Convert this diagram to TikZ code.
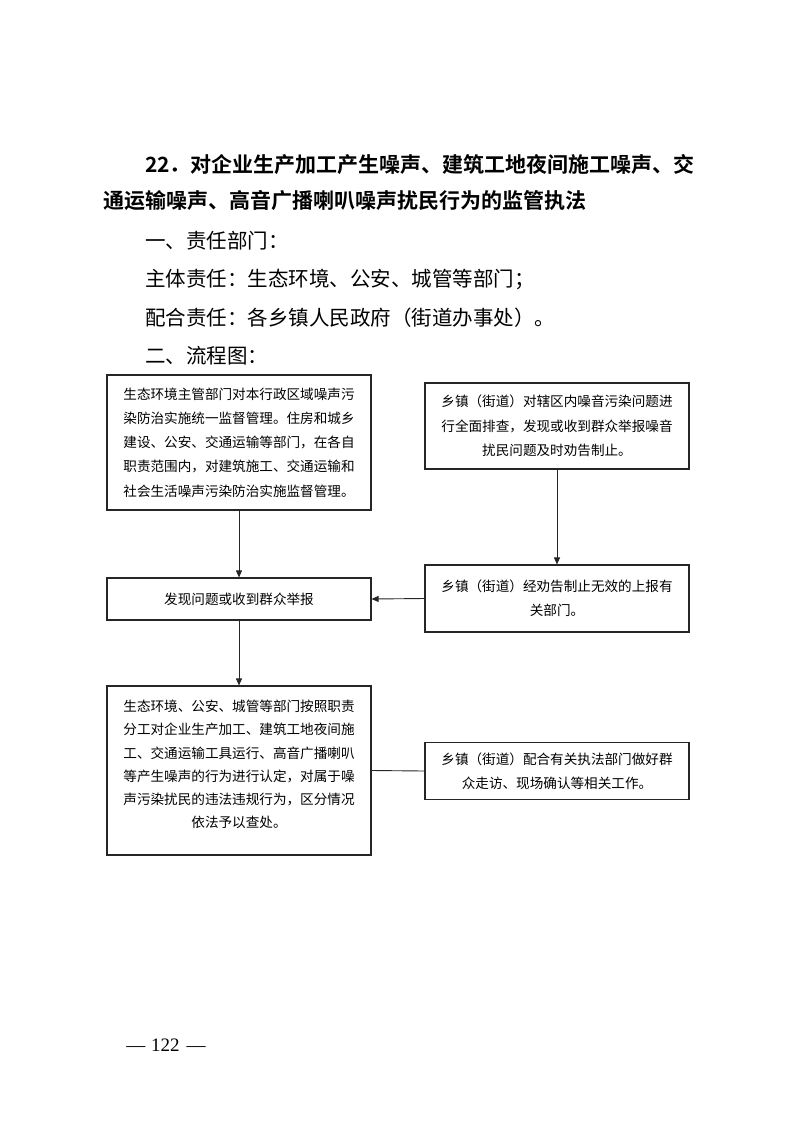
\documentclass[tikz,border=0pt]{standalone}
\usepackage{fontspec}
\usetikzlibrary{arrows.meta}
\newfontfamily\cjk{Noto Sans CJK SC}
\newfontfamily\cjkb{Noto Sans CJK SC Bold}
\newfontfamily\pnum{Liberation Serif}
\begin{document}
\begin{tikzpicture}[x=1pt,y=-1pt,
  titletext/.style={anchor=west,inner sep=0pt,font=\cjkb\fontsize{21}{21}\selectfont},
  bodytext/.style={anchor=west,inner sep=0pt,font=\cjk\fontsize{20.5}{21}\selectfont},
  flowbox/.style={draw=black!85,line width=1.1pt,rectangle,inner sep=0pt,align=center,
    text width=238pt,font=\cjk\fontsize{13.6}{24.3}\selectfont},
  arr/.style={draw=black!85,line width=0.9pt,-{Triangle[length=7pt,width=6pt]}},
  link/.style={draw=black!85,line width=0.9pt}]
\useasboundingbox (0,0) rectangle (793,1122);
\node[titletext] (t1) at (145,165) {22．对企业生产加工产生噪声、建筑工地夜间施工噪声、交};
\node[titletext] (t2) at (103,201) {通运输噪声、高音广播喇叭噪声扰民行为的监管执法};
\node[bodytext] (h1) at (145,241) {一、责任部门：};
\node[bodytext] (h2) at (145,279) {主体责任：生态环境、公安、城管等部门；};
\node[bodytext] (h3) at (145,318) {配合责任：各乡镇人民政府（街道办事处）。};
\node[bodytext] (h4) at (145,356) {二、流程图：};
% boxes
\node[flowbox,minimum width=264pt,minimum height=135pt] (A) at (239,442.5)
 {生态环境主管部门对本行政区域噪声污\\染防治实施统一监督管理。住房和城乡\\建设、公安、交通运输等部门，在各自\\职责范围内，对建筑施工、交通运输和\\社会生活噪声污染防治实施监督管理。};
\node[flowbox,minimum width=264pt,minimum height=86pt] (B) at (557,426)
 {乡镇（街道）对辖区内噪音污染问题进\\行全面排查，发现或收到群众举报噪音\\扰民问题及时劝告制止。};
\node[flowbox,minimum width=264pt,minimum height=42pt] (D) at (239,599)
 {发现问题或收到群众举报};
\node[flowbox,minimum width=264pt,minimum height=67pt] (C) at (557,598.5)
 {乡镇（街道）经劝告制止无效的上报有\\关部门。};
\node[flowbox,minimum width=264pt,minimum height=169pt,font=\cjk\fontsize{13.6}{23.2}\selectfont] (E) at (239,770.5)
 {生态环境、公安、城管等部门按照职责\\分工对企业生产加工、建筑工地夜间施\\工、交通运输工具运行、高音广播喇叭\\等产生噪声的行为进行认定，对属于噪\\声污染扰民的违法违规行为，区分情况\\依法予以查处。\\[-10pt]\mbox{}};
\node[flowbox,minimum width=264pt,minimum height=57pt] (F) at (557,771)
 {乡镇（街道）配合有关执法部门做好群\\众走访、现场确认等相关工作。};
% connectors
\draw[arr] (A.south) -- (D.north);
\draw[arr] (B.south) -- (C.north);
\draw[arr] (C.west) -- (D.east);
\draw[arr] (D.south) -- (E.north);
\draw[link] (E.east) -- (F.west);
% page number
\node[inner sep=0pt,font=\pnum\fontsize{19}{19}\selectfont] (pg) at (166,1045) {—\hspace{6pt}122\hspace{7pt}—};
\end{tikzpicture}
\end{document}
